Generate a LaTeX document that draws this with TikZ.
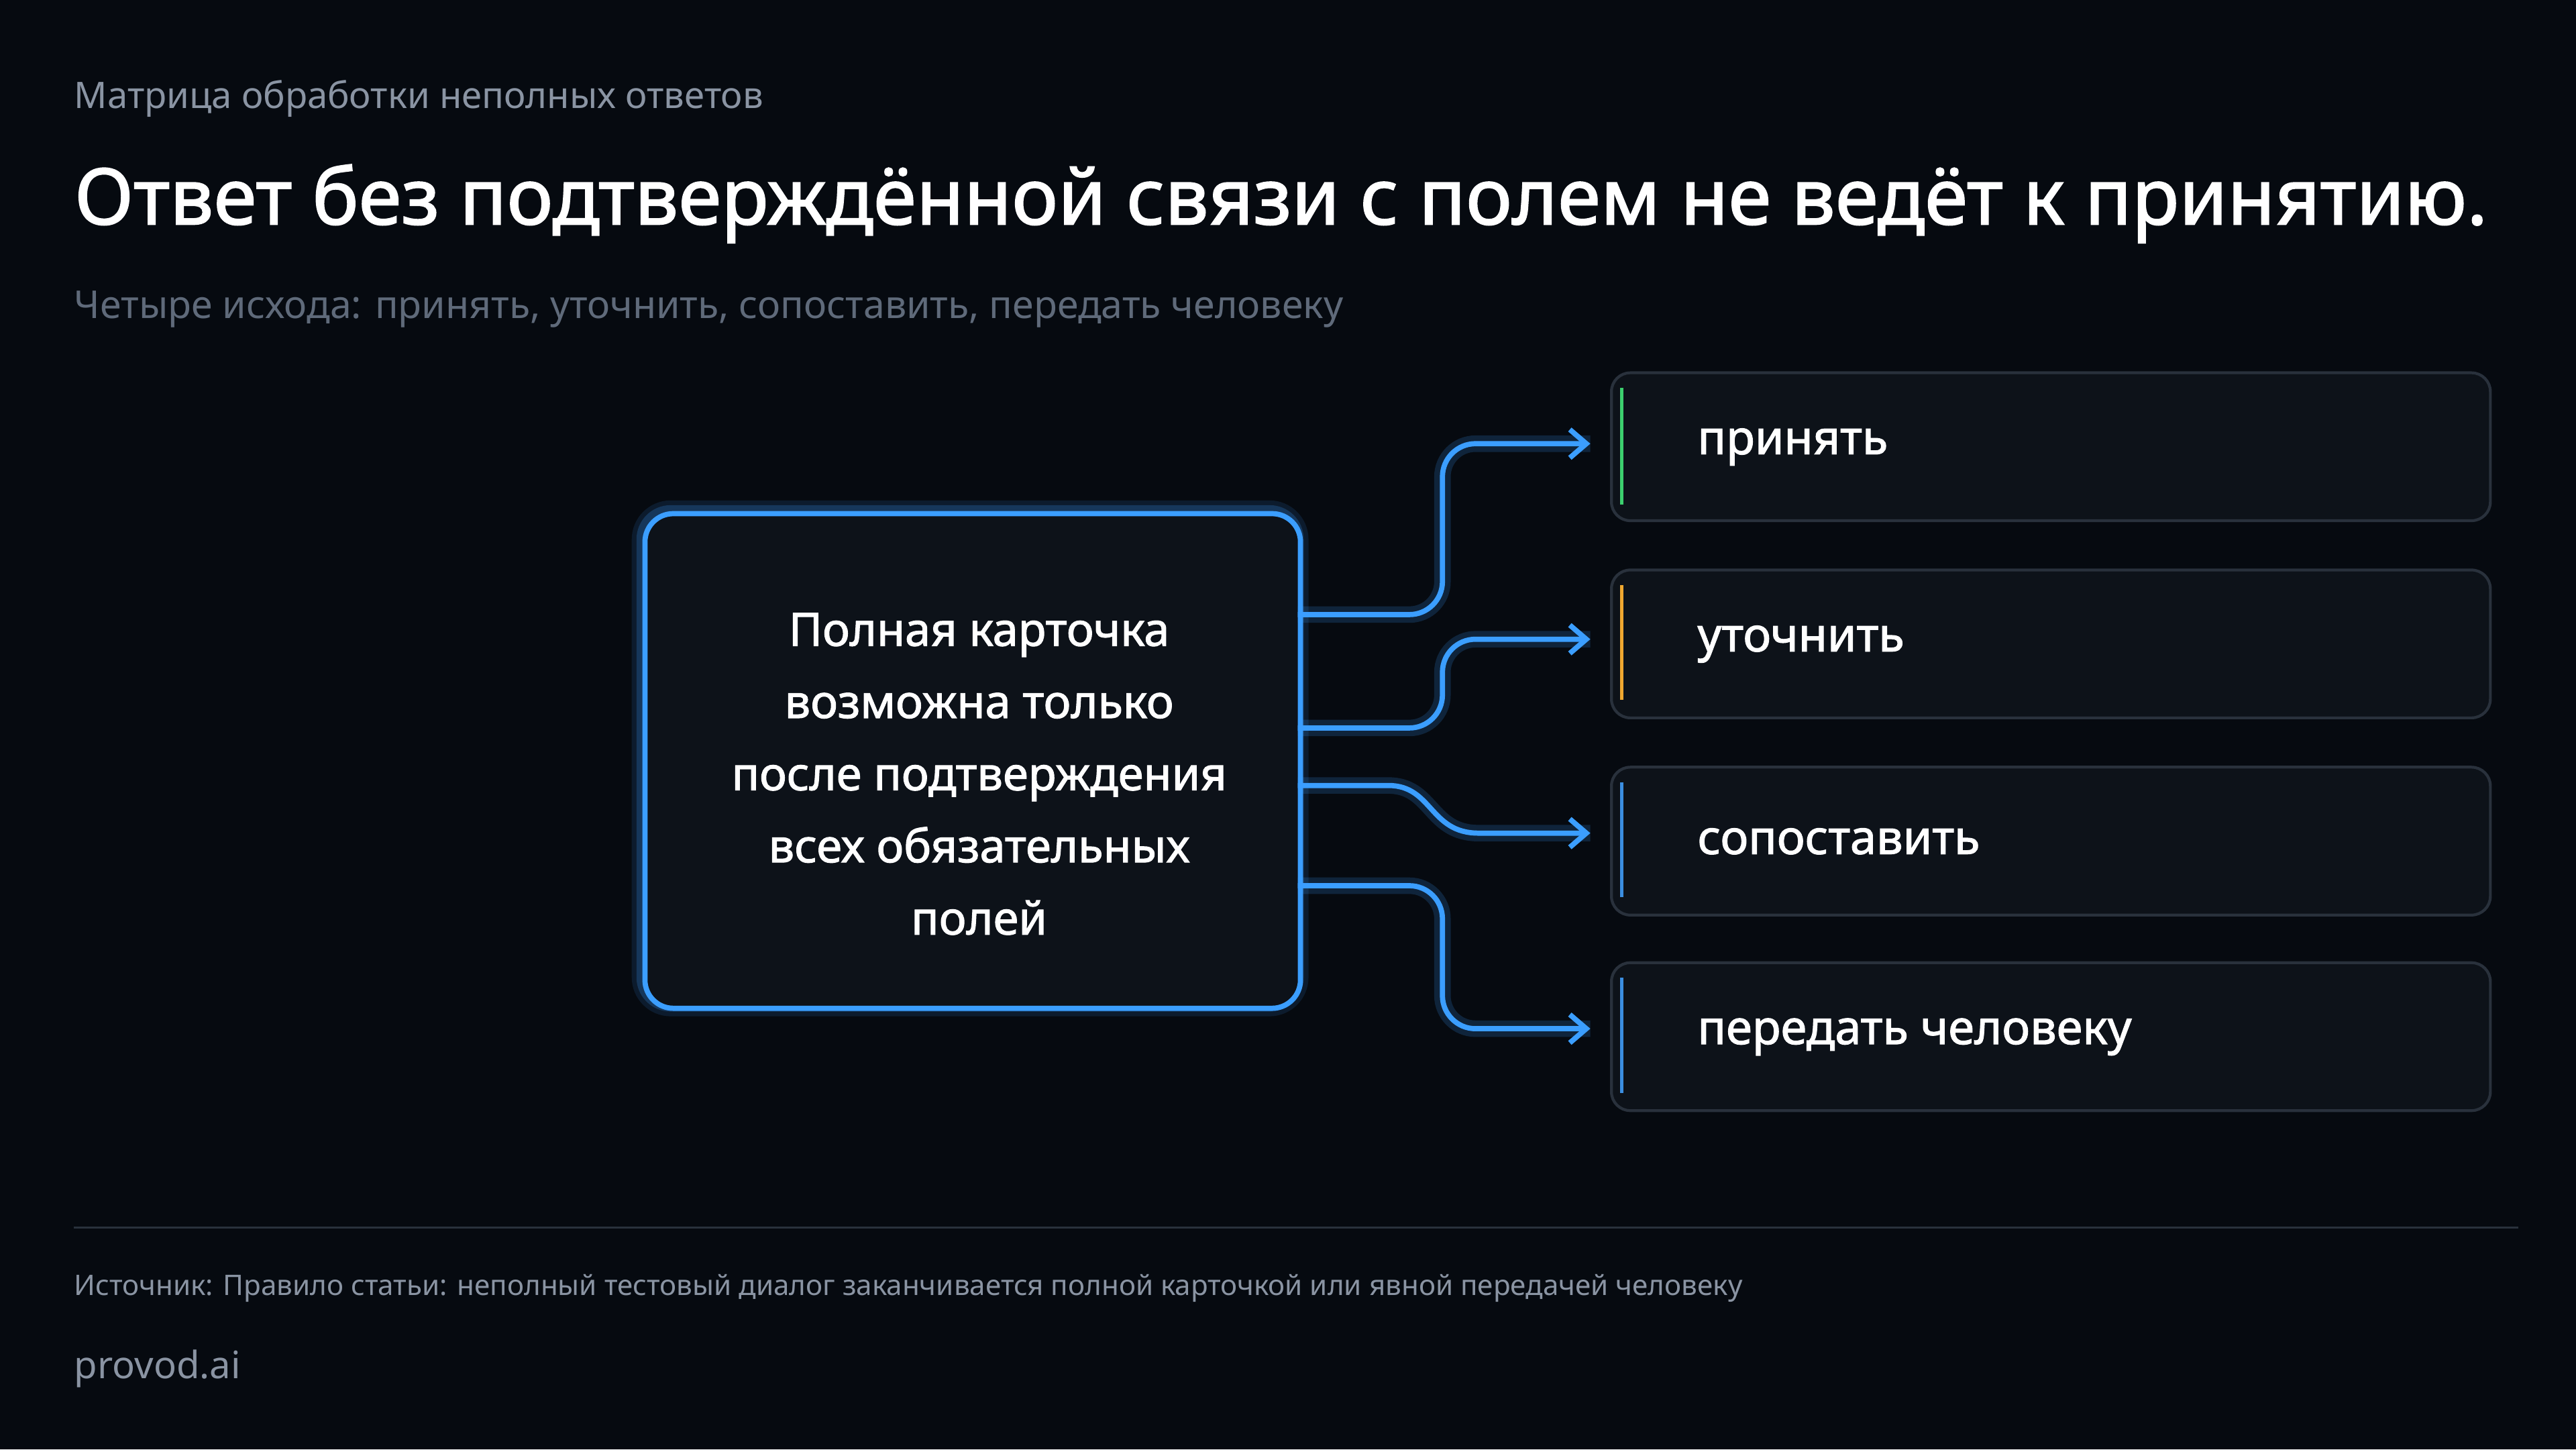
\documentclass[tikz,border=0pt]{standalone}
\usepackage{fontspec}
\setmainfont{Noto Sans}[AutoFakeBold=1.6]
\usetikzlibrary{arrows.meta}
\definecolor{bg}{HTML}{060A10}
\definecolor{glow}{HTML}{3B9EFF}
\definecolor{cardfill}{HTML}{0D1219}
\definecolor{cardline}{HTML}{29313C}
\definecolor{gA}{HTML}{3CCF6E}
\definecolor{gB}{HTML}{F0A830}
\definecolor{gC}{HTML}{3B8EE0}
\definecolor{muted}{HTML}{8A94A3}
\definecolor{muted2}{HTML}{5F6A7A}
\begin{document}
\begin{tikzpicture}[x=0.024490cm,y=-0.024490cm,inner sep=0pt,
  card/.style={draw=cardline,line width=1.2pt,fill=cardfill,rounded corners=8pt,minimum width=535*0.02449cm,minimum height=90*0.02449cm,anchor=north west,inner sep=0pt},
  lbl/.style={anchor=west,text=white,font=\fontsize{20}{24}\selectfont\bfseries},
  conn/.style={draw=glow,line width=2.2pt,rounded corners=14pt,-{Straight Barb[length=7pt,width=12pt,line width=2.2pt]}},
  connglow/.style={draw=glow,line width=7pt,opacity=0.18,rounded corners=14pt}]
\fill[bg] (0,0) rectangle (1568,882);
\useasboundingbox (0,0) rectangle (1568,882);
\node[anchor=west,text=muted,font=\fontsize{15.5}{18}\selectfont] (kick) at (45,60) {Матрица обработки неполных ответов};
\node[anchor=west,text=white,font=\fontsize{33}{40}\selectfont\bfseries] (title) at (45,124) {Ответ без подтверждённой связи с полем не ведёт к принятию.};
\node[anchor=west,text=muted2,font=\fontsize{16.3}{19}\selectfont] (sub) at (45,188) {Четыре исхода: принять, уточнить, сопоставить, передать человеку};
% main box
\draw[glow,line width=9pt,opacity=0.12,rounded corners=12pt] (391,311) rectangle (790,612);
\draw[glow,line width=5pt,opacity=0.22,rounded corners=12pt] (391,311) rectangle (790,612);
\node[draw=glow,line width=2.2pt,fill=cardfill,rounded corners=12pt,anchor=north west,minimum width=399*0.02449cm,minimum height=301*0.02449cm,inner sep=0pt] (main) at (391,311) {};
\node[text=white,align=center,font=\fontsize{19.5}{30.6}\selectfont\bfseries] (maintext) at (596,471) {Полная карточка\\возможна только\\после подтверждения\\всех обязательных\\полей};
% cards
\node[card] (c1) at (980,226) {};
\node[card] (c2) at (980,346) {};
\node[card] (c3) at (980,466) {};
\node[card] (c4) at (980,585) {};
\draw[gA,line width=1.5pt] (987,236) -- (987,307);
\draw[gB,line width=1.5pt] (987,356) -- (987,426);
\draw[gC,line width=1.5pt] (987,476) -- (987,546);
\draw[gC,line width=1.5pt] (987,595) -- (987,665);
\node[lbl] (l1) at (1033,272) {принять};
\node[lbl] (l2) at (1033,392) {уточнить};
\node[lbl] (l3) at (1033,512) {сопоставить};
\node[lbl] (l4) at (1033,631) {передать человеку};
% connector endpoints
\coordinate (s1) at (790,374); \coordinate (e1) at (968,270);
\coordinate (s2) at (790,443); \coordinate (e2) at (968,389);
\coordinate (s3) at (790,478); \coordinate (e3) at (968,507);
\coordinate (s4) at (790,539); \coordinate (e4) at (968,626);
\foreach \i in {1,2,4}{
  \draw[connglow] (s\i) -| (878,0 |- e\i) -- (e\i);
  \draw[conn] (s\i) -| (878,0 |- e\i) -- (e\i);
}
\draw[connglow,sharp corners] (s3) -- (845,478) .. controls (872,478) and (870,507) .. (900,507) -- (e3);
\draw[conn,sharp corners] (s3) -- (845,478) .. controls (872,478) and (870,507) .. (900,507) -- (e3);
% footer
\draw[cardline,line width=0.8pt] (45,747) -- (1533,747);
\node[anchor=west,text=muted,font=\fontsize{12}{15}\selectfont] (src) at (45,784) {Источник: Правило статьи: неполный тестовый диалог заканчивается полной карточкой или явной передачей человеку};
\node[anchor=west,text=muted,font=\fontsize{16}{19}\selectfont] (brand) at (45,833) {provod.ai};
\end{tikzpicture}
\end{document}
